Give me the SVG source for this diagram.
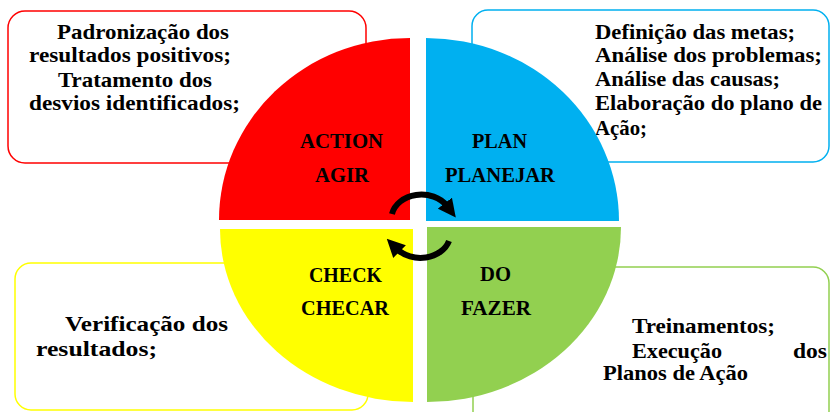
<svg xmlns="http://www.w3.org/2000/svg" width="830" height="412" viewBox="0 0 830 412">
<style>
text{font-family:"Liberation Serif","Times New Roman",serif;font-weight:bold;fill:#000;}
.b{font-size:21px;}
.l{font-size:22px;}
.box{fill:#fff;stroke-width:1.5;}
.arc{fill:none;stroke:#000;stroke-width:6;}
</style>
<defs>
<marker id="ah" viewBox="0 0 10 10" refX="2" refY="5" markerWidth="3" markerHeight="3" orient="auto" markerUnits="strokeWidth">
<path d="M0 0 L10 5 L0 10 Z" fill="#000"/>
</marker>
</defs>
<rect width="830" height="412" fill="#fff"/>
<g id="box-act">
<rect class="box" x="8" y="11" width="358" height="152" rx="17" stroke="#ff0000"/>
<text class="b" x="57" y="39" textLength="172" lengthAdjust="spacingAndGlyphs">Padronização dos</text>
<text class="b" x="29" y="62" textLength="202" lengthAdjust="spacingAndGlyphs">resultados positivos;</text>
<text class="b" x="58" y="87" textLength="154" lengthAdjust="spacingAndGlyphs">Tratamento dos</text>
<text class="b" x="29" y="110" textLength="211" lengthAdjust="spacingAndGlyphs">desvios identificados;</text>
</g>
<g id="box-plan">
<rect class="box" x="472" y="10" width="357" height="152" rx="16" stroke="#00b0f0"/>
<text class="b" x="595" y="39" textLength="200" lengthAdjust="spacingAndGlyphs">Definição das metas;</text>
<text class="b" x="595" y="62" textLength="227" lengthAdjust="spacingAndGlyphs">Análise dos problemas;</text>
<text class="b" x="595" y="86" textLength="185" lengthAdjust="spacingAndGlyphs">Análise das causas;</text>
<text class="b" x="595" y="110" textLength="227" lengthAdjust="spacingAndGlyphs">Elaboração do plano de</text>
<text class="b" x="595" y="135" textLength="52" lengthAdjust="spacingAndGlyphs">Ação;</text>
</g>
<g id="box-check">
<rect class="box" x="15" y="263" width="353" height="147" rx="16" stroke="#ffff00"/>
<text class="b" x="65" y="331" textLength="163" lengthAdjust="spacingAndGlyphs">Verificação dos</text>
<text class="b" x="36" y="356" textLength="121" lengthAdjust="spacingAndGlyphs">resultados;</text>
</g>
<g id="box-do">
<rect class="box" x="473" y="267" width="356" height="160" rx="16" stroke="#92d050"/>
<text class="b" x="632" y="333" textLength="143" lengthAdjust="spacingAndGlyphs">Treinamentos;</text>
<text class="b" x="632" y="358" textLength="90" lengthAdjust="spacingAndGlyphs">Execução</text>
<text class="b" x="793" y="358" textLength="34" lengthAdjust="spacingAndGlyphs">dos</text>
<text class="b" x="603" y="380" textLength="145" lengthAdjust="spacingAndGlyphs">Planos de Ação</text>
</g>
<g id="q-act">
<path d="M410 220 L219 220 A191 182 0 0 1 410 38 Z" fill="#ff0000"/>
<text class="l" x="300" y="148" textLength="83" lengthAdjust="spacingAndGlyphs">ACTION</text>
<text class="l" x="315" y="182" textLength="54" lengthAdjust="spacingAndGlyphs">AGIR</text>
</g>
<g id="q-plan">
<path d="M426 221 L426 38 A193 183 0 0 1 619 221 Z" fill="#00b0f0"/>
<text class="l" x="472" y="148" textLength="55" lengthAdjust="spacingAndGlyphs">PLAN</text>
<text class="l" x="445" y="182" textLength="110" lengthAdjust="spacingAndGlyphs">PLANEJAR</text>
</g>
<g id="q-check">
<path d="M413 229 L220 229 A193 173 0 0 0 413 402 Z" fill="#ffff00"/>
<text class="l" x="309" y="282" textLength="73" lengthAdjust="spacingAndGlyphs">CHECK</text>
<text class="l" x="301" y="315" textLength="88" lengthAdjust="spacingAndGlyphs">CHECAR</text>
</g>
<g id="q-do">
<path d="M427 227 L621 227 A194 175 0 0 1 427 402 Z" fill="#92d050"/>
<text class="l" x="480" y="281" textLength="31" lengthAdjust="spacingAndGlyphs">DO</text>
<text class="l" x="461" y="315" textLength="70" lengthAdjust="spacingAndGlyphs">FAZER</text>
</g>
<g id="connectors">
<path class="arc" d="M392 214 A30 24 0 0 1 447 206" marker-end="url(#ah)"/>
<path class="arc" d="M449 241 A30 24 0 0 1 397 249" marker-end="url(#ah)"/>
</g>
</svg>
